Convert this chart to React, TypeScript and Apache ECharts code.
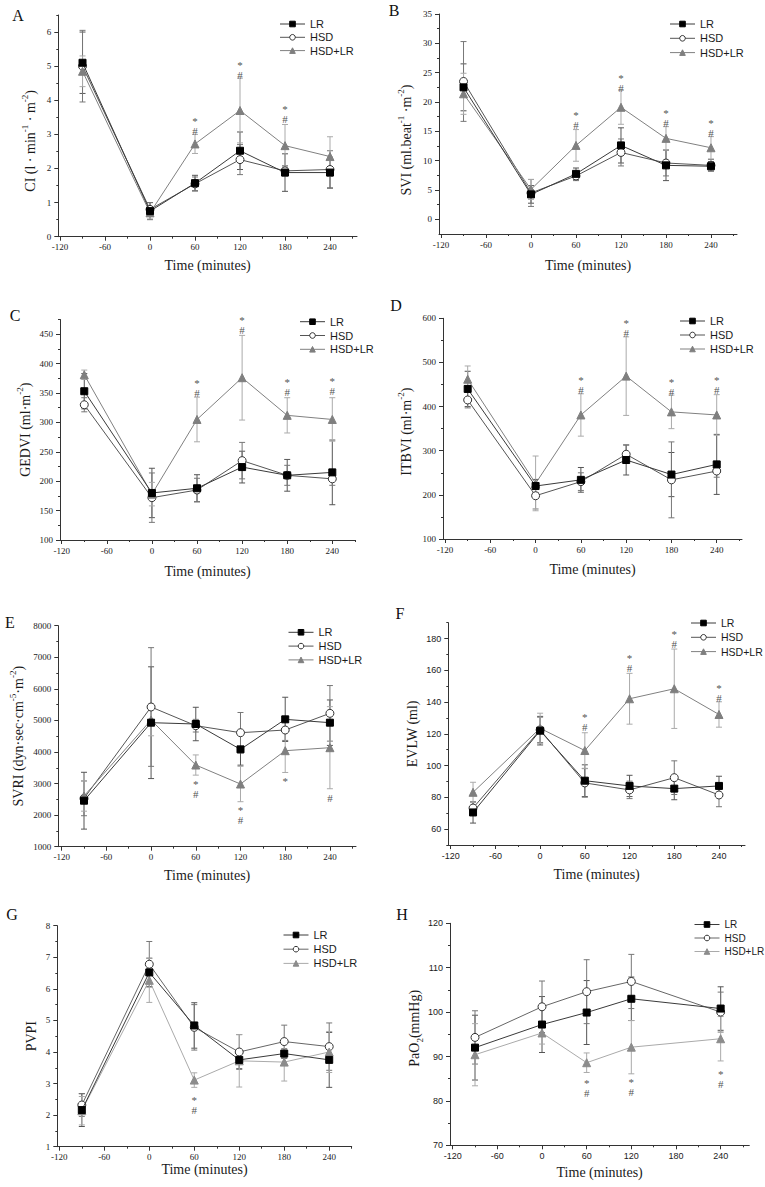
import React, { useEffect, useRef } from "react";
import * as echarts from "echarts";

// ---------- shared axis values ----------
const TIMES = [-90, 0, 60, 120, 180, 240];
const TIMES_H = [-90, 0, 60, 120, 240];
const X_LABELS = [-120, -60, 0, 60, 120, 180, 240];
const X_MINOR = [-90, -30, 30, 90, 150, 210, 270];
const SERIES_NAMES = ["LR", "HSD", "HSD+LR"];
const BOTH = "*\n#";

// ---------- A: CI ----------
const CI_LR = [5.1, 0.75, 1.57, 2.52, 1.88, 1.88];
const CI_LR_SD = [0.9, 0.25, 0.23, 0.55, 0.55, 0.45];
const CI_HSD = [5.0, 0.8, 1.55, 2.26, 1.93, 1.97];
const CI_HSD_SD = [1.05, 0.2, 0.2, 0.44, 0.15, 0.55];
const CI_HSDLR = [4.85, 0.7, 2.72, 3.7, 2.67, 2.35];
const CI_HSDLR_SD = [0.45, 0.18, 0.28, 0.95, 0.62, 0.58];
const CI_SIG: [number, number, string][] = [[60, 3.33, BOTH], [120, 4.96, BOTH], [180, 3.66, BOTH]];
const CI_Y = [0, 1, 2, 3, 4, 5, 6];
const CI_Y_MINOR = [0.5, 1.5, 2.5, 3.5, 4.5, 5.5, 6.5];

// ---------- B: SVI ----------
const SVI_LR = [22.5, 4.25, 7.75, 12.6, 9.2, 9.05];
const SVI_LR_SD = [4.0, 1.5, 1.0, 3.0, 2.6, 0.8];
const SVI_HSD = [23.5, 4.5, 7.4, 11.4, 9.6, 9.2];
const SVI_HSD_SD = [6.8, 2.3, 0.8, 2.3, 2.2, 1.0];
const SVI_HSDLR = [21.4, 5.1, 12.6, 19.1, 13.8, 12.2];
const SVI_HSDLR_SD = [3.5, 1.7, 2.7, 2.9, 2.0, 1.9];
const SVI_SIG: [number, number, string][] = [[60, 17.3, BOTH], [120, 23.7, BOTH], [180, 17.65, BOTH], [240, 15.95, BOTH]];
const SVI_Y = [0, 5, 10, 15, 20, 25, 30, 35];
const SVI_Y_MINOR = [2.5, 7.5, 12.5, 17.5, 22.5, 27.5, 32.5];

// ---------- C: GEDVI ----------
const GEDVI_LR = [353, 180, 188, 224, 210, 215];
const GEDVI_LR_SD = [30, 42, 23, 27, 27, 55];
const GEDVI_HSD = [330, 172, 185, 235, 210, 204];
const GEDVI_HSD_SD = [12, 42, 20, 31, 17, 11];
const GEDVI_HSDLR = [381, 178, 305, 376, 312, 305];
const GEDVI_HSDLR_SD = [8, 20, 38, 72, 30, 37];
const GEDVI_SIG: [number, number, string][] = [[60, 362, BOTH], [120, 469.5, BOTH], [180, 365, BOTH], [240, 365.5, BOTH]];
const GEDVI_Y = [100, 150, 200, 250, 300, 350, 400, 450];
const GEDVI_Y_MINOR = [125, 175, 225, 275, 325, 375, 425, 475];

// ---------- D: ITBVI ----------
const ITBVI_LR = [440, 220, 234, 279, 246, 269];
const ITBVI_LR_SD = [40, 15, 28, 34, 50, 68];
const ITBVI_HSD = [415, 198, 230, 292, 234, 254];
const ITBVI_HSD_SD = [18, 30, 20, 21, 86, 14];
const ITBVI_HSDLR = [462, 226, 381, 469, 388, 381];
const ITBVI_HSDLR_SD = [30, 62, 48, 89, 38, 46];
const ITBVI_SIG: [number, number, string][] = [[60, 455.5, BOTH], [120, 583, BOTH], [180, 450.5, BOTH], [240, 454, BOTH]];
const ITBVI_Y = [100, 200, 300, 400, 500, 600];
const ITBVI_Y_MINOR = [150, 250, 350, 450, 550];

// ---------- E: SVRI ----------
const SVRI_LR = [2457, 4928, 4886, 4083, 5034, 4928];
const SVRI_LR_SD = [900, 1770, 530, 500, 700, 720];
const SVRI_HSD = [2531, 5425, 4833, 4611, 4696, 5224];
const SVRI_HSD_SD = [550, 1880, 200, 640, 330, 880];
const SVRI_HSDLR = [2605, 5013, 3587, 2985, 4041, 4136];
const SVRI_HSDLR_SD = [480, 500, 320, 560, 690, 1300];
const SVRI_SIG: [number, number, string][] = [[60, 2921, BOTH], [120, 2071, BOTH], [180, 3165, "*"], [240, 2552, "#"]];
const SVRI_Y = [1000, 2000, 3000, 4000, 5000, 6000, 7000, 8000];
const SVRI_Y_MINOR = [1500, 2500, 3500, 4500, 5500, 6500, 7500];

// ---------- F: EVLW ----------
const EVLW_LR = [70.5, 122, 90.5, 87.2, 85.5, 87.2];
const EVLW_LR_SD = [6.7, 9, 10, 6.7, 7, 6.1];
const EVLW_HSD = [73.3, 122.5, 89.1, 84.7, 92.4, 81.5];
const EVLW_HSD_SD = [3.5, 8, 9, 5.5, 10.6, 7.4];
const EVLW_HSDLR = [83.2, 123.5, 109.5, 142.1, 148.4, 132.2];
const EVLW_HSDLR_SD = [6.3, 9.5, 11.2, 16, 25, 8];
const EVLW_SIG: [number, number, string][] = [[60, 129.35, BOTH], [120, 166.3, BOTH], [180, 181.05, BOTH], [240, 147.3, BOTH]];
const EVLW_Y = [60, 80, 100, 120, 140, 160, 180];
const EVLW_Y_MINOR = [50, 70, 90, 110, 130, 150, 170, 190];

// ---------- G: PVPI ----------
const PVPI_LR = [2.16, 6.52, 4.84, 3.75, 3.95, 3.75];
const PVPI_LR_SD = [0.52, 0.45, 0.72, 0.28, 0.15, 0.87];
const PVPI_HSD = [2.32, 6.78, 4.78, 4.0, 4.33, 4.17];
const PVPI_HSD_SD = [0.36, 0.72, 0.72, 0.55, 0.52, 0.75];
const PVPI_HSDLR = [2.14, 6.27, 3.11, 3.72, 3.68, 4.0];
const PVPI_HSDLR_SD = [0.45, 0.7, 0.23, 0.83, 0.6, 0.65];
const PVPI_SIG: [number, number, string][] = [[60, 2.39, BOTH]];
const PVPI_Y = [1, 2, 3, 4, 5, 6, 7, 8];
const PVPI_Y_MINOR = [1.5, 2.5, 3.5, 4.5, 5.5, 6.5, 7.5];

// ---------- H: PaO2 ----------
const PAO2_LR = [92.0, 97.2, 99.9, 103.0, 100.8];
const PAO2_LR_SD = [7.3, 6.3, 7.2, 4.9, 4.9];
const PAO2_HSD = [94.3, 101.2, 104.6, 106.9, 100.0];
const PAO2_HSD_SD = [6.0, 5.8, 7.2, 6.1, 4.5];
const PAO2_HSDLR = [90.4, 95.3, 88.6, 92.1, 94.0];
const PAO2_HSDLR_SD = [7.0, 2.5, 2.2, 6.0, 5.0];
const PAO2_SIG: [number, number, string][] = [[60, 83.45, BOTH], [120, 83.6, BOTH], [240, 85.4, BOTH]];
const PAO2_Y = [70, 80, 90, 100, 110, 120];
const PAO2_Y_MINOR = [75, 85, 95, 105, 115];

const SERIF = '"Liberation Serif", "Times New Roman", serif';
const SANS = '"Liberation Sans", Arial, sans-serif';
const AX = "#333";
const TXT = "#1a1a1a";

type Panel = {
  letter: string; lx: number; ly: number;
  L: number; T: number; R: number; B: number;
  xMin: number; xMax: number; yMin: number; yMax: number;
  yTicks: number[]; yMinor: number[];
  times: number[];
  vals: number[][]; sds: number[][];
  sig: [number, number, string][];
  yName: string; yGap: number; yShift: number; xGap: number;
  legL: number; legT: number; legGap: number; legFont: number;
  tickFont: string; light: boolean;
};

const PANELS: Panel[] = [
  { letter: "A", lx: 18, ly: 15, L: 58.3, T: 15, R: 357, B: 236.7, xMin: -122.3, xMax: 276, yMin: 0, yMax: 6.5,
    yTicks: CI_Y, yMinor: CI_Y_MINOR, times: TIMES, vals: [CI_LR, CI_HSD, CI_HSDLR], sds: [CI_LR_SD, CI_HSD_SD, CI_HSDLR_SD], sig: CI_SIG,
    yName: "CI (l · min{s|-1} · m{s|-2})", yGap: 18, yShift: 30, xGap: 22, legL: 279.5, legT: 17.5, legGap: 0.3, legFont: 11, tickFont: SERIF, light: false },
  { letter: "B", lx: 394, ly: 10, L: 439, T: 14, R: 737, B: 234, xMin: -122.7, xMax: 274.7, yMin: -2.5, yMax: 35,
    yTicks: SVI_Y, yMinor: SVI_Y_MINOR, times: TIMES, vals: [SVI_LR, SVI_HSD, SVI_HSDLR], sds: [SVI_LR_SD, SVI_HSD_SD, SVI_HSDLR_SD], sig: SVI_SIG,
    yName: "SVI (ml.beat{s|-1} ·m{s|-2})", yGap: 23, yShift: 32, xGap: 24, legL: 669.5, legT: 17.5, legGap: 1.3, legFont: 11, tickFont: SERIF, light: false },
  { letter: "C", lx: 15, ly: 315, L: 60, T: 319.5, R: 355, B: 540, xMin: -122.3, xMax: 270.2, yMin: 100, yMax: 475,
    yTicks: GEDVI_Y, yMinor: GEDVI_Y_MINOR, times: TIMES, vals: [GEDVI_LR, GEDVI_HSD, GEDVI_HSDLR], sds: [GEDVI_LR_SD, GEDVI_HSD_SD, GEDVI_HSDLR_SD], sig: GEDVI_SIG,
    yName: "GEDVI (ml·m{s|-2})", yGap: 25, yShift: 0, xGap: 24, legL: 299.5, legT: 315.2, legGap: 0.8, legFont: 11, tickFont: SERIF, light: false },
  { letter: "D", lx: 396, ly: 305, L: 443, T: 318.3, R: 742, B: 539, xMin: -122.7, xMax: 273.5, yMin: 100, yMax: 600,
    yTicks: ITBVI_Y, yMinor: ITBVI_Y_MINOR, times: TIMES, vals: [ITBVI_LR, ITBVI_HSD, ITBVI_HSDLR], sds: [ITBVI_LR_SD, ITBVI_HSD_SD, ITBVI_HSDLR_SD], sig: ITBVI_SIG,
    yName: "ITBVI (ml·m{s|-2})", yGap: 27, yShift: 6, xGap: 23, legL: 679.5, legT: 314.5, legGap: 1, legFont: 11, tickFont: SERIF, light: false },
  { letter: "E", lx: 10, ly: 622, L: 58.3, T: 625.7, R: 356, B: 846.7, xMin: -124.5, xMax: 275, yMin: 1000, yMax: 8000,
    yTicks: SVRI_Y, yMinor: SVRI_Y_MINOR, times: TIMES, vals: [SVRI_LR, SVRI_HSD, SVRI_HSDLR], sds: [SVRI_LR_SD, SVRI_HSD_SD, SVRI_HSDLR_SD], sig: SVRI_SIG,
    yName: "SVRI (dyn·sec·cm{s|-5}·m{s|-2})", yGap: 30, yShift: 0, xGap: 22, legL: 288, legT: 625.8, legGap: 0.8, legFont: 11, tickFont: SERIF, light: false },
  { letter: "F", lx: 400, ly: 613, L: 448.3, T: 622.7, R: 745, B: 845, xMin: -123.2, xMax: 274.9, yMin: 50, yMax: 190,
    yTicks: EVLW_Y, yMinor: EVLW_Y_MINOR, times: TIMES, vals: [EVLW_LR, EVLW_HSD, EVLW_HSDLR], sds: [EVLW_LR_SD, EVLW_HSD_SD, EVLW_HSDLR_SD], sig: EVLW_SIG,
    yName: "EVLW (ml)", yGap: 25, yShift: 0, xGap: 22, legL: 690.5, legT: 616.5, legGap: 1.3, legFont: 10.5, tickFont: SANS, light: false },
  { letter: "G", lx: 12, ly: 914, L: 57.3, T: 925.7, R: 351.7, B: 1146.7, xMin: -122.7, xMax: 270, yMin: 1, yMax: 8,
    yTicks: PVPI_Y, yMinor: PVPI_Y_MINOR, times: TIMES, vals: [PVPI_LR, PVPI_HSD, PVPI_HSDLR], sds: [PVPI_LR_SD, PVPI_HSD_SD, PVPI_HSDLR_SD], sig: PVPI_SIG,
    yName: "PVPI", yGap: 14, yShift: 0, xGap: 12, legL: 283, legT: 928.5, legGap: 1.2, legFont: 11, tickFont: SERIF, light: true },
  { letter: "H", lx: 402, ly: 914, L: 450, T: 923.3, R: 749.3, B: 1145.3, xMin: -123.6, xMax: 278.5, yMin: 70, yMax: 120,
    yTicks: PAO2_Y, yMinor: PAO2_Y_MINOR, times: TIMES_H, vals: [PAO2_LR, PAO2_HSD, PAO2_HSDLR], sds: [PAO2_LR_SD, PAO2_HSD_SD, PAO2_HSDLR_SD], sig: PAO2_SIG,
    yName: "PaO{b|2}(mmHg)", yGap: 25, yShift: -12, xGap: 20, legL: 694, legT: 918, legGap: 0.5, legFont: 10, tickFont: SANS, light: true },
];

function styleFor(g: number, light: boolean) {
  if (g === 0) return { symbol: "rect", size: 7, fill: "#000", border: "#000", line: "#3a3a3a", err: "#555" };
  if (g === 1) return { symbol: "circle", size: 8, fill: "#fff", border: "#333", line: light ? "#666" : "#555", err: "#777" };
  return { symbol: "triangle", size: 8, fill: light ? "#8c8c8c" : "#7f7f7f", border: light ? "#8c8c8c" : "#7f7f7f", line: light ? "#aaa" : "#808080", err: "#aaa" };
}

const plainNum = (v: number) => String(v);

function buildOption() {
  const grid: any[] = [];
  const xAxis: any[] = [];
  const yAxis: any[] = [];
  const series: any[] = [];
  const legend: any[] = [];
  const graphic: any[] = [];

  PANELS.forEach((p, i) => {
    grid.push({ left: p.L, top: p.T, width: p.R - p.L, height: p.B - p.T, containLabel: false });
    const tickLabel = { fontFamily: p.tickFont, fontSize: 9, color: TXT, formatter: plainNum };
    xAxis.push({
      type: "value", gridIndex: i, min: p.xMin, max: p.xMax, position: "bottom",
      axisLine: { show: true, onZero: false, lineStyle: { color: AX, width: 1 } },
      axisTick: { show: true, customValues: X_LABELS, length: 4, inside: false, lineStyle: { color: AX } },
      axisLabel: { customValues: X_LABELS, margin: 6, ...tickLabel },
      splitLine: { show: false },
      name: "Time (minutes)", nameLocation: "middle", nameGap: p.xGap,
      nameTextStyle: { fontFamily: SERIF, fontSize: 14, color: TXT },
    });
    xAxis.push({
      type: "value", gridIndex: i, min: p.xMin, max: p.xMax, position: "bottom",
      axisLine: { show: false, onZero: false },
      axisTick: { show: true, customValues: X_MINOR, length: 2, lineStyle: { color: AX } },
      axisLabel: { show: false }, splitLine: { show: false },
    });
    yAxis.push({
      type: "value", gridIndex: i, min: p.yMin, max: p.yMax, position: "left",
      axisLine: { show: true, onZero: false, lineStyle: { color: AX, width: 1 } },
      axisTick: { show: true, customValues: p.yTicks, length: 4, inside: false, lineStyle: { color: AX } },
      axisLabel: { customValues: p.yTicks, margin: 7, ...tickLabel },
      splitLine: { show: false },
      name: p.yName, nameLocation: "middle", nameGap: p.yGap, nameRotate: 90,
      nameTextStyle: {
        fontFamily: SERIF, fontSize: 14, lineHeight: 20, color: TXT,
        padding: p.yShift >= 0 ? [0, p.yShift, 0, 0] : [0, 0, 0, -p.yShift],
        rich: {
          s: { fontFamily: SERIF, fontSize: 9, lineHeight: 11, verticalAlign: "top", color: TXT },
          b: { fontFamily: SERIF, fontSize: 9, lineHeight: 11, verticalAlign: "bottom", color: TXT },
        },
      },
    });
    yAxis.push({
      type: "value", gridIndex: i, min: p.yMin, max: p.yMax, position: "left",
      axisLine: { show: false, onZero: false },
      axisTick: { show: true, customValues: p.yMinor, length: 2, lineStyle: { color: AX } },
      axisLabel: { show: false }, splitLine: { show: false },
    });

    const xi = 2 * i, yi = 2 * i;
    p.vals.forEach((vals, g) => {
      const st = styleFor(g, p.light);
      const sd = p.sds[g];
      series.push({
        type: "custom", name: `err-${p.letter}-${g}`, xAxisIndex: xi, yAxisIndex: yi, z: 1, silent: true, clip: false,
        encode: { x: 0, y: [1, 2] },
        data: p.times.map((t, k) => [t, vals[k] - sd[k], vals[k] + sd[k]]),
        renderItem: (_params: any, api: any) => {
          const x = api.value(0);
          const lo = api.coord([x, api.value(1)]);
          const hi = api.coord([x, api.value(2)]);
          const w = 3;
          const style = { stroke: st.err, lineWidth: 1, fill: null };
          return {
            type: "group",
            children: [
              { type: "line", shape: { x1: lo[0], y1: lo[1], x2: hi[0], y2: hi[1] }, style },
              { type: "line", shape: { x1: lo[0] - w, y1: lo[1], x2: lo[0] + w, y2: lo[1] }, style },
              { type: "line", shape: { x1: hi[0] - w, y1: hi[1], x2: hi[0] + w, y2: hi[1] }, style },
            ],
          };
        },
      });
    });
    p.vals.forEach((vals, g) => {
      const st = styleFor(g, p.light);
      series.push({
        type: "line", name: SERIES_NAMES[g], xAxisIndex: xi, yAxisIndex: yi, z: g === 0 ? 5 : 3,
        data: p.times.map((t, k) => [t, vals[k]]),
        symbol: st.symbol, symbolSize: st.size, showAllSymbol: true,
        itemStyle: { color: st.fill, borderColor: st.border, borderWidth: 1 },
        lineStyle: { color: st.line, width: 1 },
        emphasis: { disabled: true }, silent: true,
      });
    });
    const sig = p.sig;
    series.push({
      type: "custom", name: `sig-${p.letter}`, xAxisIndex: xi, yAxisIndex: yi, z: 6, silent: true, clip: false,
      encode: { x: 0, y: 1 },
      itemStyle: { color: "#555" },
      data: sig.map((s) => [s[0], s[1]]),
      renderItem: (params: any, api: any) => {
        const pt = api.coord([api.value(0), api.value(1)]);
        const txt = sig[params.dataIndex][2];
        const shift = txt === "#" ? 0 : 2.5;
        return {
          type: "text", x: pt[0], y: pt[1] + shift,
          style: { text: txt, font: `11px ${SERIF}`, lineHeight: 10, fill: "#555", align: "center", verticalAlign: "middle" },
        };
      },
    });

    legend.push({
      orient: "vertical", left: p.legL, top: p.legT, itemWidth: 25, itemHeight: 7, itemGap: p.legGap,
      selectedMode: false, padding: 0,
      textStyle: { fontFamily: SANS, fontSize: p.legFont, lineHeight: 13, color: TXT },
      data: SERIES_NAMES.map((n, g) => {
        const st = styleFor(g, p.light);
        return { name: n, itemStyle: { color: st.fill, borderColor: st.border, borderWidth: 1 }, lineStyle: { color: st.line, width: 1 } };
      }),
    });

    graphic.push({
      type: "text", x: p.lx, y: p.ly,
      style: { text: p.letter, font: `16px ${SERIF}`, fill: "#111", align: "center", verticalAlign: "middle" },
    });
  });

  return { animation: false, backgroundColor: "#fff", grid, xAxis, yAxis, series, legend, graphic };
}

export default function App() {
  const ref = useRef<HTMLDivElement>(null);
  useEffect(() => {
    document.body.style.margin = "0";
    if (!ref.current) return;
    const chart = echarts.init(ref.current, undefined, { renderer: "svg" });
    chart.setOption(buildOption() as any);
    return () => chart.dispose();
  }, []);
  return <div ref={ref} style={{ width: 765, height: 1187 }} />;
}
